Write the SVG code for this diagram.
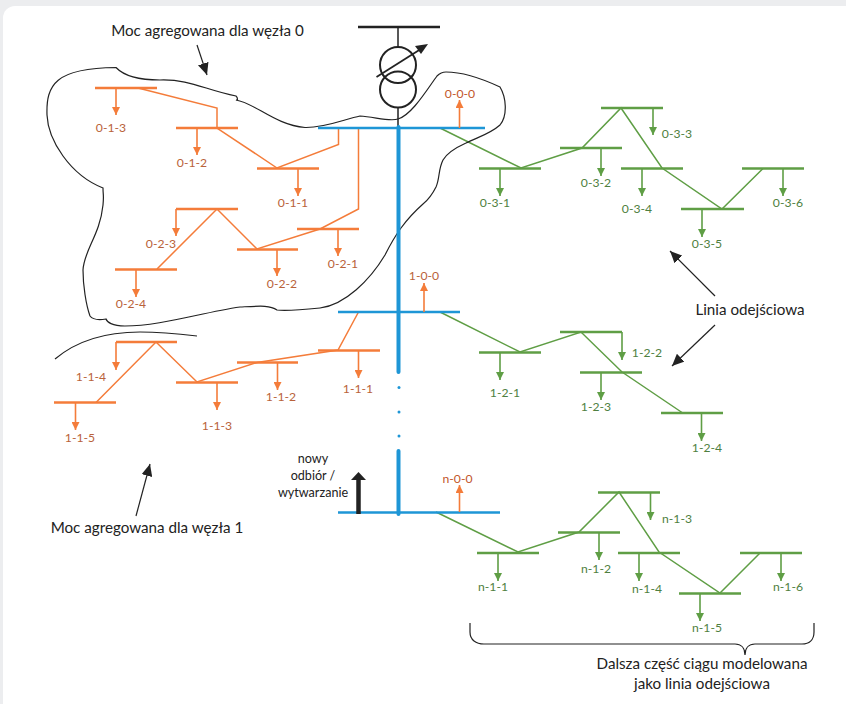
<svg xmlns="http://www.w3.org/2000/svg" width="846" height="704" viewBox="0 0 846 704">
<style>
.o{stroke:#f47c3a;fill:none}.g{stroke:#5f9e45;fill:none}
.bus{stroke-width:2.4}.bl{stroke:#1e96d6;stroke-width:2.4;fill:none}
.ln{stroke-width:1.5}.ar{stroke-width:1.6}
.ao{marker-end:url(#ho)}.ag{marker-end:url(#hg)}
.k{stroke:#222;fill:none;stroke-width:1.2}.ak{marker-end:url(#hk)}
text{font-family:"Lato","Liberation Sans",sans-serif;text-anchor:middle}
.to{font-size:12.2px;fill:#b9623a}.tr{font-size:12.2px;fill:#c2562b}.tg{font-size:12.2px;fill:#4f7f41}
.tb{font-size:15.2px;fill:#222}.ts{font-size:12.6px;fill:#222}
</style>
<defs>
<marker id="ho" markerUnits="userSpaceOnUse" markerWidth="10" markerHeight="8" refX="8" refY="4" orient="auto"><path d="M0,0L8,4L0,8Z" fill="#f47c3a"/></marker>
<marker id="hg" markerUnits="userSpaceOnUse" markerWidth="10" markerHeight="8" refX="8" refY="4" orient="auto"><path d="M0,0L8,4L0,8Z" fill="#5f9e45"/></marker>
<marker id="hk" markerUnits="userSpaceOnUse" markerWidth="13" markerHeight="11" refX="12" refY="5.5" orient="auto"><path d="M0,0L12,5.5L0,11Z" fill="#222"/></marker>
</defs>
<rect width="846" height="704" fill="#ecedef"/>
<rect x="3" y="6" width="860" height="720" rx="12" fill="#fff"/>

<g id="connectors">
<path class="o ln" d="M138,88L217,108V128L277,168L338.500,144.500V128M358.500,128V209L320,229L257,249L217,209L157,269M358.500,312L338,350L257,362.500L197,382L156,342L96,402.500"/>
<path class="g ln" d="M440,128L521,168L582,148L621,108L662,168L722,209L763,168.500M440,312L520,352L581,332L622,372L682,412.500M436,512L518,552L579,532L619,492L659,552L720,593L760,553"/>
<path class="k" d="M197,45L207,75" style="marker-end:url(#hk)"/>
<path class="k" d="M715,296L670,251" style="marker-end:url(#hk)"/>
<path class="k" d="M715,325L672,366" style="marker-end:url(#hk)"/>
<path class="k" d="M136,516L150,464" style="marker-end:url(#hk)"/>
</g>

<g id="contour-0"><path class="k" d="M116,67.500C125,77 140,80 160,80C190,79 205,90 236,96C238,98 238,101 236,100C255,103 275,125 305,127.500C325,128 345,119 360,116C375,117 390,122 398,119C412,115 428,88 437,76C441,72 444,72 446,72C465,72 485,80 500,87C506,97 508,115 500,125C490,134 478,137 466,143C455,148 447,153 443,160C438,170 440,178 436,187C432,195 428,200 423,204C405,220 395,235 385,255C370,280 345,305 320,308C300,310 285,311 277,310C270,305 260,306 240,307C200,313 160,326 125,326C112,326 107,322 106,319C100,320 93,320 90,316C86,305 83,285 83,270C84,250 100,235 103,205C104,195 103,195 103,188C70,175 48,140 47,115C46,85 55,68 116,67.500Z"/></g>
<g id="contour-1"><path class="k" d="M55,359C80,338 110,332 140,332C160,332 180,334 197,336"/></g>

<g id="transformer">
<path d="M358,27H440" stroke="#222" stroke-width="2.400"/>
<path class="k" d="M398,27V47M398,107V128" style="stroke-width:1.500"/>
<circle class="k" cx="398" cy="65" r="18" style="stroke-width:2"/>
<circle class="k" cx="398" cy="89.500" r="18" style="stroke-width:2"/>
<path d="M376.500,77L424,47" stroke="#222" stroke-width="1.800" fill="none"/>
<path d="M428,44L415,46L421,54Z" fill="#222"/>
</g>

<g id="feeder">
<path d="M398.500,127V372M398.500,451V514" stroke="#1e96d6" stroke-width="4" stroke-linecap="round" fill="none"/>
<circle cx="399" cy="387.500" r="1.500" fill="#1e96d6"/><circle cx="399" cy="412" r="1.500" fill="#1e96d6"/><circle cx="399" cy="436" r="1.500" fill="#1e96d6"/>
</g>

<g id="n-0-0-0"><path class="bl" d="M318,128H485"/><path class="o ar ao" d="M459.500,128V100"/><text class="tr" x="460" y="98">0-0-0</text></g>
<g id="n-1-0-0"><path class="bl" d="M338,312H460"/><path class="o ar ao" d="M424,312V283"/><text class="to" x="424" y="280">1-0-0</text></g>
<g id="n-n-0-0"><path class="bl" d="M338,512.500H500"/><path class="o ar ao" d="M459.500,512V485"/><text class="tr" x="457.500" y="483">n-0-0</text></g>
<g id="n-new"><path d="M358.500,514V478" stroke="#222" stroke-width="4.500" fill="none"/><path d="M351,480L358.500,472L366,480Z" fill="#222"/><text class="ts" x="313" y="463">nowy</text><text class="ts" x="313" y="480">odbiór /</text><text class="ts" x="313" y="497">wytwarzanie</text></g>

<g id="n-0-1-3"><path class="o bus" d="M95,88H157"/><path class="o ar ao" d="M116,88V115"/><text class="to" x="111" y="132">0-1-3</text></g>
<g id="n-0-1-2"><path class="o bus" d="M176,128H238"/><path class="o ar ao" d="M197,128V155"/><text class="to" x="192" y="167">0-1-2</text></g>
<g id="n-0-1-1"><path class="o bus" d="M257,168.500H319"/><path class="o ar ao" d="M298,168V196"/><text class="to" x="293" y="207">0-1-1</text></g>
<g id="n-0-2-1"><path class="o bus" d="M297,229H359"/><path class="o ar ao" d="M338,229V256"/><text class="to" x="343" y="268">0-2-1</text></g>
<g id="n-0-2-2"><path class="o bus" d="M237,249.500H298"/><path class="o ar ao" d="M277,249V276"/><text class="to" x="282" y="288">0-2-2</text></g>
<g id="n-0-2-3"><path class="o bus" d="M176,209H238"/><path class="o ar ao" d="M176,209V236"/><text class="to" x="161" y="248">0-2-3</text></g>
<g id="n-0-2-4"><path class="o bus" d="M115,269.500H177"/><path class="o ar ao" d="M136,269V297"/><text class="to" x="131" y="308">0-2-4</text></g>

<g id="n-1-1-1"><path class="o bus" d="M318,350.500H380"/><path class="o ar ao" d="M358.500,350V378"/><text class="to" x="358" y="393">1-1-1</text></g>
<g id="n-1-1-2"><path class="o bus" d="M237,362.500H298"/><path class="o ar ao" d="M277.500,362V390"/><text class="to" x="281" y="401">1-1-2</text></g>
<g id="n-1-1-3"><path class="o bus" d="M176,382.500H238"/><path class="o ar ao" d="M217,382V410"/><text class="to" x="217" y="430">1-1-3</text></g>
<g id="n-1-1-4"><path class="o bus" d="M116,342H177"/><path class="o ar ao" d="M116,342V370"/><text class="to" x="91" y="381">1-1-4</text></g>
<g id="n-1-1-5"><path class="o bus" d="M54,402.500H116"/><path class="o ar ao" d="M75.500,402V430"/><text class="to" x="80" y="442">1-1-5</text></g>

<g id="n-0-3-1"><path class="g bus" d="M479,168.500H541"/><path class="g ar ag" d="M500,168V196"/><text class="tg" x="495" y="207">0-3-1</text></g>
<g id="n-0-3-2"><path class="g bus" d="M560,148H622"/><path class="g ar ag" d="M601,148V176"/><text class="tg" x="596" y="187">0-3-2</text></g>
<g id="n-0-3-3"><path class="g bus" d="M601,108H663"/><path class="g ar ag" d="M653,108V135"/><text class="tg" x="677" y="138">0-3-3</text></g>
<g id="n-0-3-4"><path class="g bus" d="M621,168.500H683"/><path class="g ar ag" d="M642,168V196"/><text class="tg" x="637" y="213">0-3-4</text></g>
<g id="n-0-3-5"><path class="g bus" d="M681,209H744"/><path class="g ar ag" d="M702,209V237"/><text class="tg" x="707" y="248">0-3-5</text></g>
<g id="n-0-3-6"><path class="g bus" d="M742,168.500H804"/><path class="g ar ag" d="M783,168V196"/><text class="tg" x="788" y="207">0-3-6</text></g>

<g id="n-1-2-1"><path class="g bus" d="M479,352.500H541"/><path class="g ar ag" d="M500,352V380"/><text class="tg" x="505" y="397">1-2-1</text></g>
<g id="n-1-2-2"><path class="g bus" d="M560,332H622"/><path class="g ar ag" d="M622,332V360"/><text class="tg" x="647" y="357">1-2-2</text></g>
<g id="n-1-2-3"><path class="g bus" d="M580,372.500H642"/><path class="g ar ag" d="M601,372V400"/><text class="tg" x="596" y="411">1-2-3</text></g>
<g id="n-1-2-4"><path class="g bus" d="M661,413H723"/><path class="g ar ag" d="M701.500,413V441"/><text class="tg" x="707" y="452">1-2-4</text></g>

<g id="n-n-1-1"><path class="g bus" d="M477,553H539"/><path class="g ar ag" d="M498,553V581"/><text class="tg" x="493" y="591">n-1-1</text></g>
<g id="n-n-1-2"><path class="g bus" d="M558,532.500H620"/><path class="g ar ag" d="M599,532V560"/><text class="tg" x="596" y="573">n-1-2</text></g>
<g id="n-n-1-3"><path class="g bus" d="M598,492.500H660"/><path class="g ar ag" d="M650.500,492V520"/><text class="tg" x="677" y="523">n-1-3</text></g>
<g id="n-n-1-4"><path class="g bus" d="M618,553H680"/><path class="g ar ag" d="M639,553V581"/><text class="tg" x="647" y="593">n-1-4</text></g>
<g id="n-n-1-5"><path class="g bus" d="M679,593.500H741"/><path class="g ar ag" d="M700,593V621"/><text class="tg" x="707" y="632">n-1-5</text></g>
<g id="n-n-1-6"><path class="g bus" d="M740,553H802"/><path class="g ar ag" d="M781,553V581"/><text class="tg" x="788" y="591">n-1-6</text></g>

<g id="brace"><path class="k" d="M470,623V632C470,640 476,644 484,644H735C741,644 745,648 745,655C745,648 749,644 755,644H802C809,644 814,640 814,632V623"/></g>
<g id="labels">
<text class="tb" x="207.500" y="36">Moc agregowana dla węzła 0</text>
<text class="tb" x="147" y="533">Moc agregowana dla węzła 1</text>
<text class="tb" x="750" y="315">Linia odejściowa</text>
<text class="tb" x="702" y="669">Dalsza część ciągu modelowana</text>
<text class="tb" x="702" y="689">jako linia odejściowa</text>
</g>
</svg>
